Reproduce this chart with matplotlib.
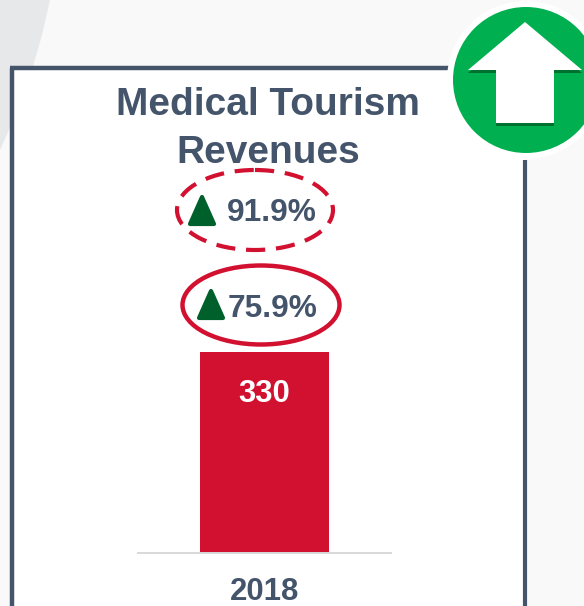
"""Medical tourism revenue card: one bar, two growth callouts, up-arrow badge."""
from __future__ import annotations

import matplotlib
matplotlib.use("Agg")
import matplotlib.pyplot as plt
from matplotlib.patches import Circle, Ellipse, Polygon, Rectangle

W, H = 584, 606

YEARS = ["2018"]
REVENUES = [330]
GROWTH_LABELS = ["91.9%", "75.9%"]
TITLE_LINES = ["Medical Tourism", "Revenues"]

SLATE = "#44546a"
RED = "#d21030"
DARK_GREEN = "#00602b"
BADGE_GREEN = "#00b050"

plt.rcParams["font.family"] = ["Liberation Sans", "DejaVu Sans"]


def main():
    fig = plt.figure(figsize=(W / 100, H / 100), dpi=100, facecolor="#f9f9f9")

    # Whole-figure axes in pixel coords for the card decorations
    bg = fig.add_axes([0, 0, 1, 1])
    bg.set_xlim(0, W); bg.set_ylim(H, 0)
    bg.axis("off")

    bg.add_patch(Polygon([(0, 0), (50, 0), (42, 35), (33, 66), (20, 105), (0, 150)],
                         facecolor="#e7e8ea", edgecolor="none"))
    bg.add_patch(Rectangle((12, 68), 513, 540, facecolor="white", edgecolor="none"))

    # Card frame, interrupted by the badge on the right
    bg.plot([11.5, 11.5], [H + 5, 67.5], color=SLATE, linewidth=3.2,
            solid_joinstyle="miter", solid_capstyle="butt")
    bg.plot([10, 450], [67.5, 67.5], color=SLATE, linewidth=3.2,
            solid_capstyle="butt")
    bg.plot([525, 525], [160, H + 5], color=SLATE, linewidth=3.0,
            solid_capstyle="butt")

    # Up-arrow badge
    bg.add_patch(Circle((526, 80), 79, facecolor="white", edgecolor="none", zorder=3))
    bg.add_patch(Circle((526, 80), 73, facecolor=BADGE_GREEN, edgecolor="none", zorder=3))
    arrow = [(525, 22), (582, 70), (554, 70), (554, 123), (496, 123), (496, 70), (468, 70)]
    bg.add_patch(Polygon([(x, y + 3) for x, y in arrow], facecolor="#00702f",
                         edgecolor="none", zorder=4))
    bg.add_patch(Polygon(arrow, facecolor="white", edgecolor="none", zorder=5))

    # Title
    bg.text(268, 115, TITLE_LINES[0], ha="center", va="baseline", fontsize=28,
            fontweight="bold", color=SLATE)
    bg.text(268, 163, TITLE_LINES[1], ha="center", va="baseline", fontsize=28,
            fontweight="bold", color=SLATE)

    # Growth callouts
    bg.add_patch(Ellipse((255, 210), 156, 80, fill=False, edgecolor=RED,
                         linewidth=3.0, linestyle=(0, (4.6, 2.6))))
    bg.add_patch(Ellipse((261, 305), 157, 79, fill=False, edgecolor=RED,
                         linewidth=3.2))
    bg.add_patch(Polygon([(202, 197), (214, 224), (190, 224)], facecolor=DARK_GREEN,
                         edgecolor=DARK_GREEN, linewidth=3, joinstyle="round"))
    bg.add_patch(Polygon([(211, 291), (223, 318), (199, 318)], facecolor=DARK_GREEN,
                         edgecolor=DARK_GREEN, linewidth=3, joinstyle="round"))
    bg.text(272, 221, GROWTH_LABELS[0], ha="center", va="baseline", fontsize=22.8,
            fontweight="bold", color=SLATE)
    bg.text(273, 317, GROWTH_LABELS[1], ha="center", va="baseline", fontsize=22.8,
            fontweight="bold", color=SLATE)

    # Bar chart, placed so the bar spans 352..553 px
    ax = fig.add_axes([138 / W, 1 - 553 / H, 253 / W, 201 / H])
    ax.patch.set_alpha(0)
    bars = ax.bar(YEARS, REVENUES, width=0.506, color=RED)
    ax.set_xlim(-0.5, 0.5)
    ax.set_ylim(0, REVENUES[0])
    ax.set_yticks([])
    for side in ("top", "left", "right"):
        ax.spines[side].set_visible(False)
    ax.spines["bottom"].set_color("#d9d9d9")
    ax.spines["bottom"].set_linewidth(1.4)
    ax.tick_params(axis="x", length=0, pad=17, labelsize=22.4, labelcolor=SLATE)
    for lab in ax.get_xticklabels():
        lab.set_fontweight("bold")
    for bar, val in zip(bars, REVENUES):
        ax.annotate(str(val), (bar.get_x() + bar.get_width() / 2, val),
                    xytext=(0, -36), textcoords="offset points", ha="center",
                    va="baseline", fontsize=22.4, fontweight="bold", color="white")

    fig.savefig("out.png", dpi=100, facecolor=fig.get_facecolor())


if __name__ == "__main__":
    main()
